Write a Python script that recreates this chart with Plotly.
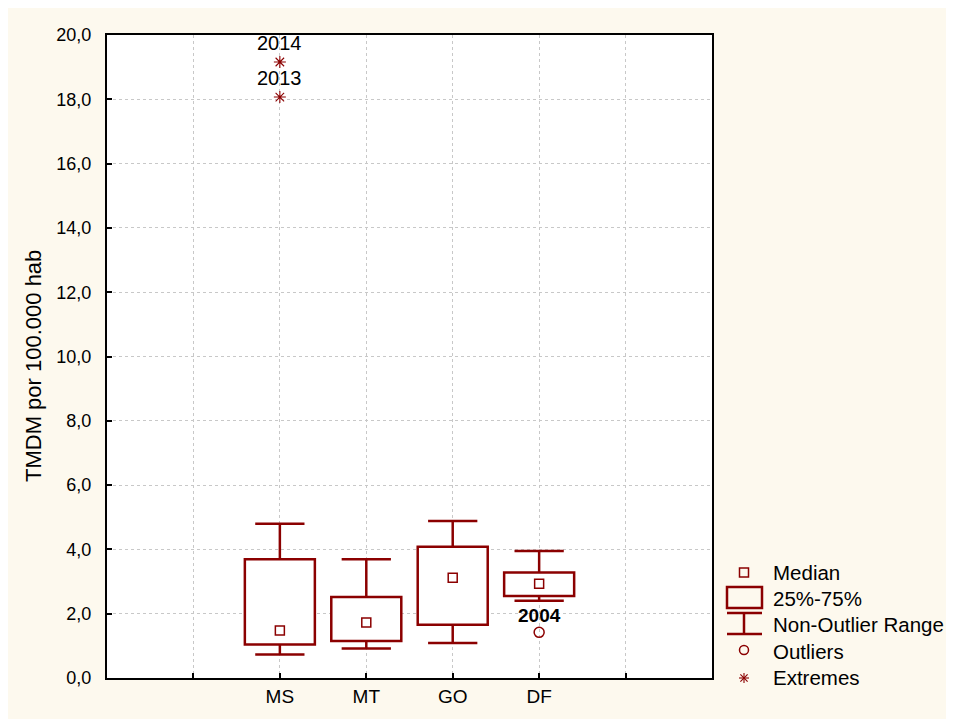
import plotly.graph_objects as go

# ---- data ----
categories = ["MS", "MT", "GO", "DF"]
positions = [2, 3, 4, 5]
medians = [1.48, 1.73, 3.12, 2.93]
q1 = [1.04, 1.15, 1.66, 2.55]
q3 = [3.69, 2.52, 4.08, 3.28]
whisker_low = [0.73, 0.92, 1.09, 2.40]
whisker_high = [4.80, 3.69, 4.88, 3.95]

outlier_pos = [5]
outlier_vals = [1.42]
outlier_labels = ["2004"]

extreme_pos = [2, 2]
extreme_vals = [19.16, 18.07]
extreme_labels = ["2014", "2013"]

y_ticks = [0, 2, 4, 6, 8, 10, 12, 14, 16, 18, 20]
x_ticks = [1, 2, 3, 4, 5, 6]
x_ticktext = ["", "MS", "MT", "GO", "DF", ""]

RED = "#8B0000"
BG = "#FDF9EE"
FONT = "Liberation Sans, Arial, sans-serif"
BOX_W = 0.81
CAP_HALF = 0.285

fig = go.Figure()

# boxes (25%-75%)
fig.add_trace(go.Bar(
    x=positions, y=[b - a for a, b in zip(q1, q3)], base=q1, width=BOX_W,
    marker=dict(color="white", line=dict(color=RED, width=2.5)),
    showlegend=False, hoverinfo="skip"))

# whiskers with caps (non-outlier range)
wx, wy = [], []
for p, a, b, lo, hi in zip(positions, q1, q3, whisker_low, whisker_high):
    wx += [p, p, None, p - CAP_HALF, p + CAP_HALF, None,
           p, p, None, p - CAP_HALF, p + CAP_HALF, None]
    wy += [b, hi, None, hi, hi, None, a, lo, None, lo, lo, None]
fig.add_trace(go.Scatter(x=wx, y=wy, mode="lines",
                         line=dict(color=RED, width=2.5),
                         showlegend=False, hoverinfo="skip"))

# medians
fig.add_trace(go.Scatter(x=positions, y=medians, mode="markers",
                         marker=dict(symbol="square-open", size=9, color=RED,
                                     line=dict(width=1.5, color=RED)),
                         showlegend=False))

# outliers
fig.add_trace(go.Scatter(x=outlier_pos, y=outlier_vals, mode="markers",
                         marker=dict(symbol="circle-open", size=10, color=RED,
                                     line=dict(width=1.5, color=RED)),
                         showlegend=False))

# extremes
fig.add_trace(go.Scatter(x=extreme_pos, y=extreme_vals, mode="markers",
                         marker=dict(symbol="asterisk-open", size=10, color=RED,
                                     line=dict(width=1.1, color=RED)),
                         showlegend=False))

annotations = []
for p, v, t in zip(extreme_pos, extreme_vals, extreme_labels):
    annotations.append(dict(x=p, y=v, xref="x", yref="y", text=t, showarrow=False,
                            yshift=19, font=dict(family=FONT, size=20, color="black")))
for p, v, t in zip(outlier_pos, outlier_vals, outlier_labels):
    annotations.append(dict(x=p, y=v, xref="x", yref="y", text="<b>" + t + "</b>",
                            showarrow=False, yshift=17,
                            font=dict(family=FONT, size=19, color="black")))

# layout geometry (figure pixels; page adds an 8px body margin)
OFF = 8
W, H = 954, 719
L, T = 107 - OFF, 35 - OFF
R, B = W - (712 - OFF), H - (678 - OFF)
PW, PH = W - L - R, H - T - B


def px(x):
    # x given in screenshot pixels
    return (x - OFF - L) / PW


def py(y):
    # y given in screenshot pixels
    return (H - B - (y - OFF)) / PH


# y-axis title
annotations.append(dict(x=px(33), y=py(366), xref="paper", yref="paper",
                        xanchor="center", yanchor="middle",
                        text="TMDM por 100.000 hab", textangle=-90, showarrow=False,
                        font=dict(family=FONT, size=22, color="black")))

# manual legend
shapes = []
sym_cx = 744
legend_items = [("Median", 572), ("25%-75%", 598), ("Non-Outlier Range", 624),
                ("Outliers", 651), ("Extremes", 677)]
for txt, yy in legend_items:
    annotations.append(dict(x=px(771), y=py(yy), xref="paper", yref="paper",
                            xanchor="left", yanchor="middle", text=txt, showarrow=False,
                            font=dict(family=FONT, size=20.5, color="black")))


def pline(x0, y0, x1, y1, w=2.5):
    shapes.append(dict(type="line", xref="paper", yref="paper",
                       x0=px(x0), y0=py(y0), x1=px(x1), y1=py(y1),
                       line=dict(color=RED, width=w)))


# median square
shapes.append(dict(type="rect", xref="paper", yref="paper",
                   x0=px(sym_cx - 4.5), x1=px(sym_cx + 4.5), y0=py(577), y1=py(568),
                   line=dict(color=RED, width=1.5)))
# box
shapes.append(dict(type="rect", xref="paper", yref="paper",
                   x0=px(727), x1=px(762), y0=py(608), y1=py(587),
                   line=dict(color=RED, width=2.5)))
# whisker symbol
pline(727, 613, 762, 613)
pline(727, 634, 762, 634)
pline(sym_cx, 613, sym_cx, 634)
# outlier circle
shapes.append(dict(type="circle", xref="paper", yref="paper",
                   x0=px(sym_cx - 4.5), x1=px(sym_cx + 4.5), y0=py(654.5), y1=py(645.5),
                   line=dict(color=RED, width=1.5)))
# extremes asterisk
ay = 678
pline(sym_cx, ay - 5, sym_cx, ay + 5, 1.1)
pline(sym_cx - 5, ay, sym_cx + 5, ay, 1.1)
pline(sym_cx - 3.6, ay - 3.6, sym_cx + 3.6, ay + 3.6, 1.1)
pline(sym_cx - 3.6, ay + 3.6, sym_cx + 3.6, ay - 3.6, 1.1)

fig.update_layout(
    width=W, height=H,
    margin=dict(l=L, r=R, t=T, b=B, pad=0),
    paper_bgcolor=BG,
    plot_bgcolor="white",
    separators=",.",
    showlegend=False,
    barmode="overlay",
    font=dict(family=FONT, size=18, color="black"),
    annotations=annotations,
    shapes=shapes,
)
fig.update_xaxes(
    range=[0, 7], tickvals=x_ticks, ticktext=x_ticktext,
    showgrid=True, gridcolor="#C8C8C8", griddash="3px,3px", gridwidth=1,
    showline=True, linecolor="black", linewidth=2, mirror=True,
    ticks="inside", ticklen=5, tickcolor="black", tickwidth=1.5,
    tickfont=dict(family=FONT, size=19), zeroline=False, fixedrange=True,
)
fig.update_yaxes(
    range=[0, 20], tickvals=y_ticks, tickformat=".1f",
    showgrid=True, gridcolor="#C8C8C8", griddash="3px,3px", gridwidth=1,
    showline=True, linecolor="black", linewidth=2, mirror=True,
    ticks="inside", ticklen=5, tickcolor="black", tickwidth=1.5,
    ticklabelstandoff=10,
    tickfont=dict(family=FONT, size=18), zeroline=False, fixedrange=True,
)

fig.write_html("out.html", config={"displayModeBar": False})
